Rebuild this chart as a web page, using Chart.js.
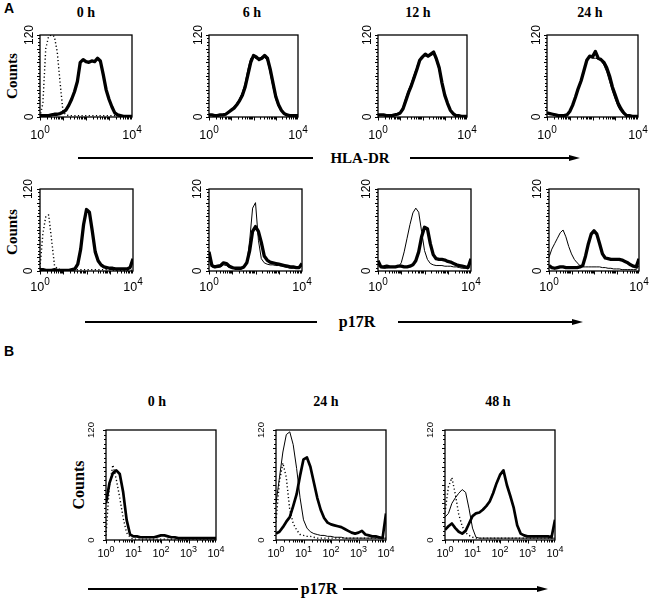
<!DOCTYPE html>
<html>
<head>
<meta charset="utf-8">
<script src="https://cdn.jsdelivr.net/npm/chart.js@4.4.1/dist/chart.umd.min.js"></script>
<style>
body { margin: 0; background: #fff; }
#fig { position: relative; width: 650px; height: 601px; overflow: hidden; font-family: "Liberation Serif", "Times New Roman", serif; }
.c { position: absolute; }
.t { position: absolute; font-weight: bold; white-space: nowrap; transform: translate(-50%, -50%); line-height: 1; }
.counts { transform: translate(-50%, -50%) rotate(-90deg); font-size: 15px; }
.letter { font-family: "Liberation Sans", Arial, sans-serif; font-size: 14px; }
.ln { position: absolute; height: 2px; background: #000; }
.head { position: absolute; width: 0; height: 0; border-top: 3.5px solid transparent; border-bottom: 3.5px solid transparent; border-left: 11px solid #000; }
</style>
</head>
<body>
<div id="fig">
  <div class="t letter" style="left:9px;top:8px">A</div>
  <div class="t letter" style="left:9px;top:351px">B</div>

  <div class="t" style="left:86px;top:13px;font-size:14px">0 h</div>
  <div class="t" style="left:252px;top:13px;font-size:14px">6 h</div>
  <div class="t" style="left:418px;top:13px;font-size:14px">12 h</div>
  <div class="t" style="left:590px;top:13px;font-size:14px">24 h</div>

  <div class="t" style="left:157px;top:402px;font-size:14px">0 h</div>
  <div class="t" style="left:326px;top:402px;font-size:14px">24 h</div>
  <div class="t" style="left:498px;top:402px;font-size:14px">48 h</div>

  <div class="t counts" style="left:12px;top:76px">Counts</div>
  <div class="t counts" style="left:12px;top:232px">Counts</div>
  <div class="t counts" style="left:79px;top:485px;font-size:16px">Counts</div>

  <div class="ln" style="left:78px;top:157px;width:235px"></div>
  <div class="t" style="left:360px;top:158px;font-size:15px">HLA-DR</div>
  <div class="ln" style="left:410px;top:157px;width:160px"></div>
  <div class="head" style="left:569px;top:154.5px"></div>

  <div class="ln" style="left:85px;top:321px;width:232px"></div>
  <div class="t" style="left:357px;top:322px;font-size:16px">p17R</div>
  <div class="ln" style="left:398px;top:321px;width:175px"></div>
  <div class="head" style="left:572px;top:318.5px"></div>

  <div class="ln" style="left:88px;top:588px;width:210px"></div>
  <div class="t" style="left:319px;top:589px;font-size:16px">p17R</div>
  <div class="ln" style="left:343px;top:588px;width:195px"></div>
  <div class="head" style="left:537px;top:585.5px"></div>
</div>
<script>
// fluorescence channel position, in decades (10^0 .. 10^4)
const xs = [0,0.125,0.25,0.375,0.5,0.625,0.75,0.875,1,1.125,1.25,1.375,1.5,1.625,1.75,1.875,2,2.125,2.25,2.375,2.5,2.625,2.75,2.875,3,3.125,3.25,3.375,3.5,3.625,3.75,3.875,4];

// A, HLA-DR
const a1_0h_dot   = [0,20,100,118,120,118,95,50,8,3,2,2,2,2,2,2,2,2,2,2,2,2,2,2,2,2,2,2,1,1,1,1,1];
const a1_0h_thick = [2,2,2,2,3,4,4,5,7,10,17,26,37,52,80,84,81,80,82,81,86,82,62,40,26,15,6,3,2,1,1,1,1];
const a1_6h_thin  = [3,3,2,2,3,3,4,7,11,15,20,27,36,50,70,86,88,85,86,88,88,82,64,44,26,15,8,4,2,2,1,1,1];
const a1_6h_thick = [3,3,2,2,3,3,4,7,10,13,18,24,32,44,62,80,90,88,84,86,90,86,70,50,30,18,10,5,3,2,2,2,2];
const a1_12h_thin  = [3,3,3,2,2,2,3,4,7,15,28,40,50,62,74,85,88,90,88,90,92,82,68,46,30,18,9,4,2,2,1,1,1];
const a1_12h_thick = [3,3,3,2,2,2,3,4,6,12,24,36,46,58,70,83,88,92,89,92,95,85,72,50,32,20,10,5,2,2,1,1,1];
const a1_24h_thin  = [6,5,4,3,2,2,2,3,8,18,30,43,55,70,84,88,86,86,85,82,76,66,52,38,26,15,8,4,2,2,1,1,1];
const a1_24h_thick = [6,5,4,3,2,2,2,3,8,17,29,42,53,68,83,89,88,96,86,84,80,72,60,44,32,20,12,6,2,2,1,1,1];

// A, p17R
const a2_0h_dot   = [5,55,80,82,45,8,3,2,2,2,2,2,2,2,2,2,2,2,2,2,2,2,2,2,2,1,1,1,1,1,1,1,1];
const a2_0h_thick = [2,2,1,1,1,2,1,1,1,1,1,2,3,10,32,68,90,86,58,28,15,9,6,5,4,4,3,3,3,3,3,5,18];
const a2_6h_thin  = [20,6,5,5,6,9,8,5,4,3,3,3,5,10,45,92,100,45,18,12,10,9,9,8,8,7,6,5,4,4,4,4,8];
const a2_6h_thick = [28,8,6,7,8,12,11,7,5,4,4,4,6,12,30,58,65,58,42,22,16,13,12,11,10,9,8,7,6,6,5,5,11];
const a2_12h_thin  = [8,5,4,4,5,5,5,6,12,28,48,68,85,92,86,58,30,17,11,9,8,8,8,7,7,7,6,6,5,4,4,3,14];
const a2_12h_thick = [15,6,6,7,6,6,6,7,7,6,6,7,9,15,28,50,64,62,40,24,18,17,17,16,14,13,11,9,8,7,6,5,18];
const a2_24h_thin  = [20,32,40,48,56,60,50,36,25,17,12,8,6,6,6,6,6,6,6,5,5,4,4,3,3,3,2,2,2,2,2,2,8];
const a2_24h_thick = [8,5,4,5,6,6,5,5,5,5,5,6,8,22,40,54,59,54,40,25,19,18,17,17,17,17,16,14,12,9,7,6,18];

// B, p17R
const b_0h_dot   = [5,60,82,66,46,24,8,3,1,1,1,1,1,1,1,1,1,1,1,1,1,1,1,1,1,1,1,1,1,1,1,1,1];
const b_0h_thick = [40,62,73,76,72,52,22,6,4,4,3,3,3,3,3,4,5,5,4,3,3,2,2,2,2,2,2,2,2,2,2,2,2];
const b_24h_dot   = [20,64,84,68,33,18,11,6,5,4,4,3,2,2,2,2,2,2,2,2,2,2,2,2,2,2,2,2,2,2,2,2,2];
const b_24h_thin  = [40,68,96,115,118,104,78,46,22,13,9,7,6,5,5,4,4,3,3,3,2,2,2,2,2,2,2,2,2,2,2,2,2];
const b_24h_thick = [7,9,14,20,25,37,50,70,88,90,80,63,46,33,24,19,17,16,15,14,12,10,8,7,8,10,6,5,4,4,3,2,29];
const b_48h_dot   = [30,58,68,50,28,15,8,5,3,2,2,2,2,2,2,2,2,2,2,2,2,2,2,2,2,2,2,2,2,2,2,2,2];
const b_48h_thin  = [25,29,40,46,51,55,52,34,13,3,2,2,2,2,2,2,2,2,2,2,2,2,2,2,2,2,2,2,2,2,2,2,2];
const b_48h_thick = [11,15,18,13,9,7,10,18,26,29,30,33,37,42,51,62,71,76,60,48,35,16,7,5,4,4,4,4,4,4,4,3,22];

const yTickLabels = ["0", "120"];
const decadeLabels = [0, 1, 2, 3, 4];

const SANS = '"Liberation Sans", Arial, sans-serif';

function drawPow(ctx, px, base, exp, fs) {
  const sf = Math.round(fs * 0.78);
  ctx.font = fs + "px " + SANS;
  const bw = ctx.measureText("10").width;
  ctx.font = sf + "px " + SANS;
  const ew = ctx.measureText(String(exp)).width;
  const x0 = px - (bw + ew) / 2;
  ctx.textAlign = "left";
  ctx.textBaseline = "alphabetic";
  ctx.font = fs + "px " + SANS;
  ctx.fillText("10", x0, base);
  ctx.font = sf + "px " + SANS;
  ctx.fillText(String(exp), x0 + bw, base - fs * 0.5);
}

const framePlugin = {
  id: "frame",
  afterDraw(chart, args, o) {
    const { ctx, chartArea: a, scales: { x, y } } = chart;
    ctx.save();
    ctx.strokeStyle = "#000";
    ctx.fillStyle = "#000";
    ctx.lineWidth = 1.3;
    ctx.strokeRect(a.left, a.top, a.right - a.left, a.bottom - a.top);

    // dense count ticks on the left
    ctx.lineWidth = 1;
    for (let v = 0; v <= 120; v += 5) {
      const py = Math.round(y.getPixelForValue(v)) + 0.5;
      ctx.beginPath();
      ctx.moveTo(a.left - (v % 20 === 0 ? 3 : 2), py);
      ctx.lineTo(a.left, py);
      ctx.stroke();
    }
    // log ticks at the bottom
    for (let d = 0; d < 4; d++) {
      for (let m = 1; m < 10; m++) {
        const px = Math.round(x.getPixelForValue(d + Math.log10(m))) + 0.5;
        ctx.beginPath();
        ctx.moveTo(px, a.bottom);
        ctx.lineTo(px, a.bottom + (m === 1 ? 3.5 : 2.5));
        ctx.stroke();
      }
    }

    // count labels, turned on their side
    ctx.font = o.yfs + "px " + SANS;
    ctx.textAlign = "center";
    ctx.textBaseline = "middle";
    [0, 120].forEach((v, i) => {
      ctx.save();
      ctx.translate(a.left - o.yoff, y.getPixelForValue(v));
      ctx.rotate(-Math.PI / 2);
      ctx.fillText(yTickLabels[i], 0, 0);
      ctx.restore();
    });

    // decade labels
    const shown = o.allDecades ? decadeLabels : [0, 4];
    shown.forEach(d => drawPow(ctx, x.getPixelForValue(d), a.bottom + o.xoff, d, o.xfs));
    ctx.restore();
  }
};

const W = { dot: 1.4, thin: 1, thick: 3.3 };

function makePanel(frame, series, opts) {
  const PL = 26, PT = 16, PR = 14, PB = 26;
  const [l, t, w, h] = frame;
  const cv = document.createElement("canvas");
  cv.className = "c";
  cv.width = w + PL + PR;
  cv.height = h + PT + PB;
  cv.style.left = (l - PL) + "px";
  cv.style.top = (t - PT) + "px";
  document.getElementById("fig").appendChild(cv);

  new Chart(cv, {
    type: "line",
    data: {
      datasets: series.map(([vals, kind]) => ({
        data: xs.map((xv, i) => ({ x: xv, y: vals[i] })),
        borderColor: "#000",
        borderWidth: kind === "thick" ? (opts.thick || W.thick) : W[kind],
        borderDash: kind === "dot" ? [1.2, 2.4] : [],
        borderJoinStyle: "round",
        pointRadius: 0,
        tension: 0,
        fill: false
      }))
    },
    options: {
      responsive: false,
      animation: false,
      events: [],
      layout: { padding: { left: PL, top: PT, right: PR, bottom: PB } },
      plugins: { legend: { display: false }, tooltip: { enabled: false }, frame: opts },
      scales: {
        x: { type: "linear", min: 0, max: 4, display: false },
        y: { min: 0, max: 120, display: false }
      }
    },
    plugins: [framePlugin]
  });
}

const optA1 = { yfs: 12, yoff: 10, xfs: 12.5, xoff: 22, allDecades: false };
const optA2 = { yfs: 12, yoff: 11, xfs: 12.5, xoff: 20, allDecades: false };
const optB  = { yfs: 9.5, yoff: 15, xfs: 11, xoff: 17, allDecades: true, thick: 2.7 };

makePanel([40, 35, 92, 82],  [[a1_0h_dot, "dot"], [a1_0h_thick, "thick"]], optA1);
makePanel([209, 35, 89, 82], [[a1_6h_thin, "thin"], [a1_6h_thick, "thick"]], optA1);
makePanel([378, 35, 89, 82], [[a1_12h_thin, "thin"], [a1_12h_thick, "thick"]], optA1);
makePanel([547, 35, 91, 82], [[a1_24h_thin, "thin"], [a1_24h_thick, "thick"]], optA1);

makePanel([40, 189, 93, 82],  [[a2_0h_dot, "dot"], [a2_0h_thick, "thick"]], optA2);
makePanel([209, 189, 93, 82], [[a2_6h_thin, "thin"], [a2_6h_thick, "thick"]], optA2);
makePanel([378, 189, 93, 82], [[a2_12h_thin, "thin"], [a2_12h_thick, "thick"]], optA2);
makePanel([549, 189, 90, 82], [[a2_24h_thin, "thin"], [a2_24h_thick, "thick"]], optA2);

makePanel([106, 430, 110, 110], [[b_0h_dot, "dot"], [b_0h_thick, "thick"]], optB);
makePanel([276, 430, 110, 110], [[b_24h_dot, "dot"], [b_24h_thin, "thin"], [b_24h_thick, "thick"]], optB);
makePanel([445, 430, 110, 110], [[b_48h_dot, "dot"], [b_48h_thin, "thin"], [b_48h_thick, "thick"]], optB);
</script>
</body>
</html>
